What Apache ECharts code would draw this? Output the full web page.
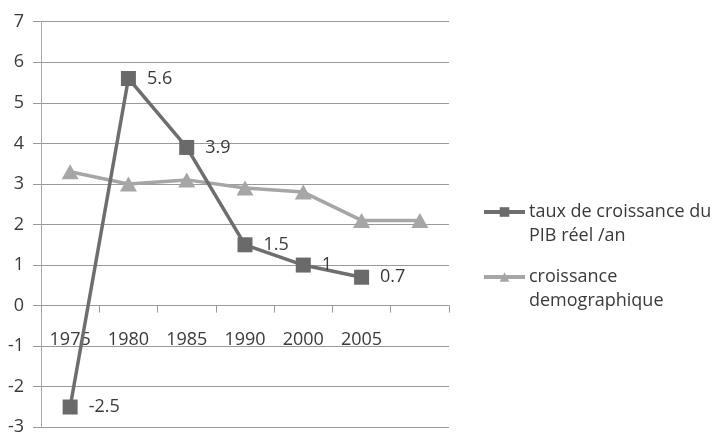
<!DOCTYPE html>
<html>
<head>
<meta charset="utf-8">
<script src="https://cdn.jsdelivr.net/npm/echarts@6/dist/echarts.min.js"></script>
<style>
html,body{margin:0;padding:0;background:#fff;}
#c{width:712px;height:434px;}
</style>
</head>
<body>
<div id="c"></div>
<script>
const categories = ['1975', '1980', '1985', '1990', '2000', '2005', ''];
const pibValues = [-2.5, 5.6, 3.9, 1.5, 1, 0.7];
const demoValues = [3.3, 3.0, 3.1, 2.9, 2.8, 2.1, 2.1];
const seriesNames = ['taux de croissance du PIB réel /an', 'croissance demographique'];
const legendLabels = ['taux de croissance du\nPIB réel /an', 'croissance\ndemographique'];

const FONT = '"Open Sans", "Noto Sans", sans-serif';
const TXT = '#3a3a3a';
const Y_MIN = -3, Y_MAX = 7;
const GRID_TOP = 21.7, GRID_BOTTOM = 6.7, H = 434;
const plotH = H - GRID_TOP - GRID_BOTTOM;
const zeroOffset = -plotH * (0 - Y_MIN) / (Y_MAX - Y_MIN);

const chart = echarts.init(document.getElementById('c'), null, {renderer: 'canvas'});
const legendCommon = {
  orient: 'vertical', left: 482, padding: 0,
  itemWidth: 41, itemHeight: 12, itemGap: 0,
  lineStyle: {width: 4},
  textStyle: {fontFamily: FONT, fontSize: 18, lineHeight: 24, color: TXT, padding: [0,0,0,-1]}
};
chart.setOption({
  animation: false,
  backgroundColor: '#fff',
  grid: {left: 41, top: GRID_TOP, right: 263, bottom: GRID_BOTTOM, containLabel: false, outerBoundsMode: 'none'},
  legend: [
    Object.assign({}, legendCommon, {top: 176, data: [seriesNames[0]],
      formatter: () => ' \n' + legendLabels[0]}),
    Object.assign({}, legendCommon, {top: 241, data: [seriesNames[1]],
      formatter: () => ' \n' + legendLabels[1]})
  ],
  xAxis: [{
    type: 'category',
    data: categories,
    boundaryGap: true,
    axisLine: {show: true, onZero: true, lineStyle: {color: '#9a9a9a', width: 1}},
    axisTick: {show: true, length: 7, lineStyle: {color: '#9a9a9a'}},
    axisLabel: {show: false},
    splitLine: {show: false}
  }, {
    type: 'category',
    data: categories,
    boundaryGap: true,
    position: 'bottom',
    offset: zeroOffset,
    axisLine: {show: false, onZero: false},
    axisTick: {show: false},
    axisLabel: {show: true, margin: 25, fontFamily: FONT, fontSize: 18, color: TXT, interval: 0},
    splitLine: {show: false}
  }],
  yAxis: {
    type: 'value',
    min: Y_MIN, max: Y_MAX, interval: 1,
    axisLine: {show: true, lineStyle: {color: '#a8a8a8', width: 1}},
    axisTick: {show: true, length: 8, lineStyle: {color: '#9a9a9a'}},
    axisLabel: {margin: 17, fontFamily: FONT, fontSize: 18, color: TXT},
    splitLine: {show: true, lineStyle: {color: '#9a9a9a', width: 1}}
  },
  series: [
    {
      name: seriesNames[0],
      type: 'line',
      data: pibValues,
      symbol: 'rect',
      symbolSize: 15,
      z: 3,
      itemStyle: {color: '#6a6a6a'},
      lineStyle: {color: '#6e6e6e', width: 3.5},
      label: {show: true, position: 'right', distance: 11, fontFamily: FONT, fontSize: 18, color: TXT}
    },
    {
      name: seriesNames[1],
      type: 'line',
      data: demoValues,
      symbol: 'triangle',
      symbolSize: [17, 15],
      z: 2,
      itemStyle: {color: '#a6a6a6'},
      lineStyle: {color: '#a6a6a6', width: 3.5}
    }
  ]
});
</script>
</body>
</html>
